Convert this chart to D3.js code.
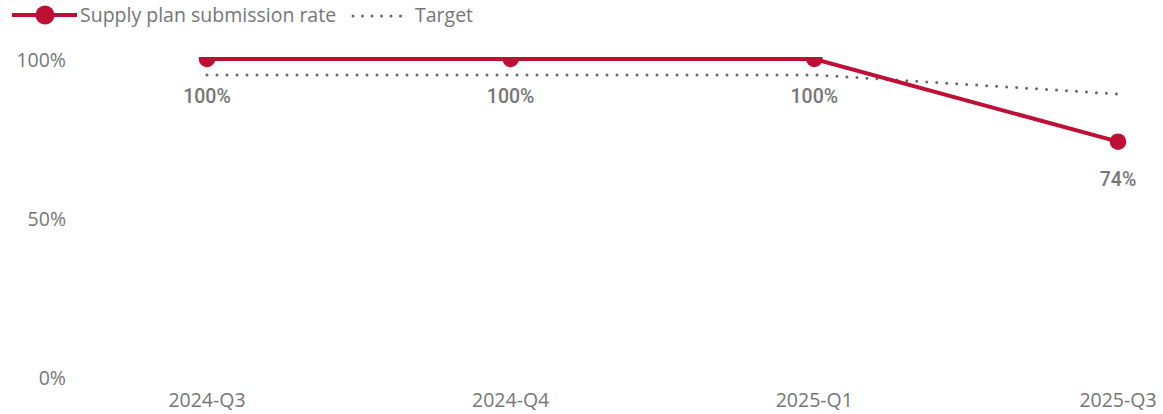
<!DOCTYPE html>
<html>
<head>
<meta charset="utf-8">
<script src="https://cdn.jsdelivr.net/npm/d3@7"></script>
<style>
  body { margin: 0; background: #fff; }
  svg text { font-family: "Open Sans", "Noto Sans", sans-serif; }
</style>
</head>
<body>
<div id="chart"></div>
<script>
const quarters = ["2024-Q3", "2024-Q4", "2025-Q1", "2025-Q3"];
const submissionRate = [1.00, 1.00, 1.00, 0.74];
const target = [0.95, 0.95, 0.95, 0.89];
const yTicks = [0, 0.5, 1];

const width = 1163, height = 414;
const red = "#BE0F34", dotGrey = "#6E6768", textGrey = "#767676";
const fontSize = 19.5;

const svg = d3.select("#chart").append("svg").attr("width", width).attr("height", height);

svg.append("clipPath").attr("id", "plot-clip")
  .append("rect").attr("x", 0).attr("y", 57).attr("width", width).attr("height", 330);

const x = d3.scalePoint().domain(quarters).range([207, 1118]);
const y = d3.scaleLinear().domain([0, 1]).range([377, 59]);

// y axis labels
svg.append("g").selectAll("text").data(yTicks).enter().append("text")
  .attr("x", 66).attr("y", d => y(d) + 1).attr("dy", "0.35em")
  .attr("text-anchor", "end").attr("fill", textGrey).attr("font-size", fontSize)
  .text(d => d3.format(".0%")(d));

// x axis labels
svg.append("g").selectAll("text").data(quarters).enter().append("text")
  .attr("x", d => x(d)).attr("y", 400).attr("dy", "0.35em")
  .attr("text-anchor", "middle").attr("fill", textGrey).attr("font-size", fontSize)
  .text(d => d);

const plot = svg.append("g").attr("clip-path", "url(#plot-clip)");

// target line (dotted)
const targetLine = d3.line().x((d, i) => x(quarters[i])).y(d => y(d));
plot.append("path").datum(target).attr("fill", "none")
  .attr("stroke", dotGrey).attr("stroke-width", 3).attr("stroke-linecap", "round")
  .attr("stroke-dasharray", "0 10").attr("d", targetLine);

// submission rate line
const rateLine = d3.line().x((d, i) => x(quarters[i])).y(d => y(d));
plot.append("path").datum(submissionRate).attr("fill", "none")
  .attr("stroke", red).attr("stroke-width", 4).attr("d", rateLine);

plot.append("g").selectAll("circle").data(submissionRate).enter().append("circle")
  .attr("cx", (d, i) => x(quarters[i])).attr("cy", d => y(d)).attr("r", 8.3).attr("fill", red);

// data labels
svg.append("g").selectAll("text").data(submissionRate).enter().append("text")
  .attr("x", (d, i) => x(quarters[i])).attr("y", d => y(d) + 37).attr("dy", "0.35em")
  .attr("text-anchor", "middle").attr("fill", textGrey).attr("font-size", 19.5)
  .attr("font-weight", 500).style("font-family", "Roboto, sans-serif")
  .text(d => d3.format(".0%")(d));

// legend
const legend = svg.append("g");
legend.append("line").attr("x1", 12).attr("x2", 77).attr("y1", 15).attr("y2", 15)
  .attr("stroke", red).attr("stroke-width", 4);
legend.append("circle").attr("cx", 45).attr("cy", 15).attr("r", 9.5).attr("fill", red);
legend.append("text").attr("x", 80).attr("y", 15).attr("dy", "0.35em")
  .attr("fill", textGrey).attr("font-size", fontSize).text("Supply plan submission rate");
legend.append("line").attr("x1", 353).attr("x2", 410).attr("y1", 16).attr("y2", 16)
  .attr("stroke", dotGrey).attr("stroke-width", 3).attr("stroke-linecap", "round")
  .attr("stroke-dasharray", "0 9.5");
legend.append("text").attr("x", 415).attr("y", 15).attr("dy", "0.35em")
  .attr("fill", textGrey).attr("font-size", fontSize).text("Target");
</script>
</body>
</html>
